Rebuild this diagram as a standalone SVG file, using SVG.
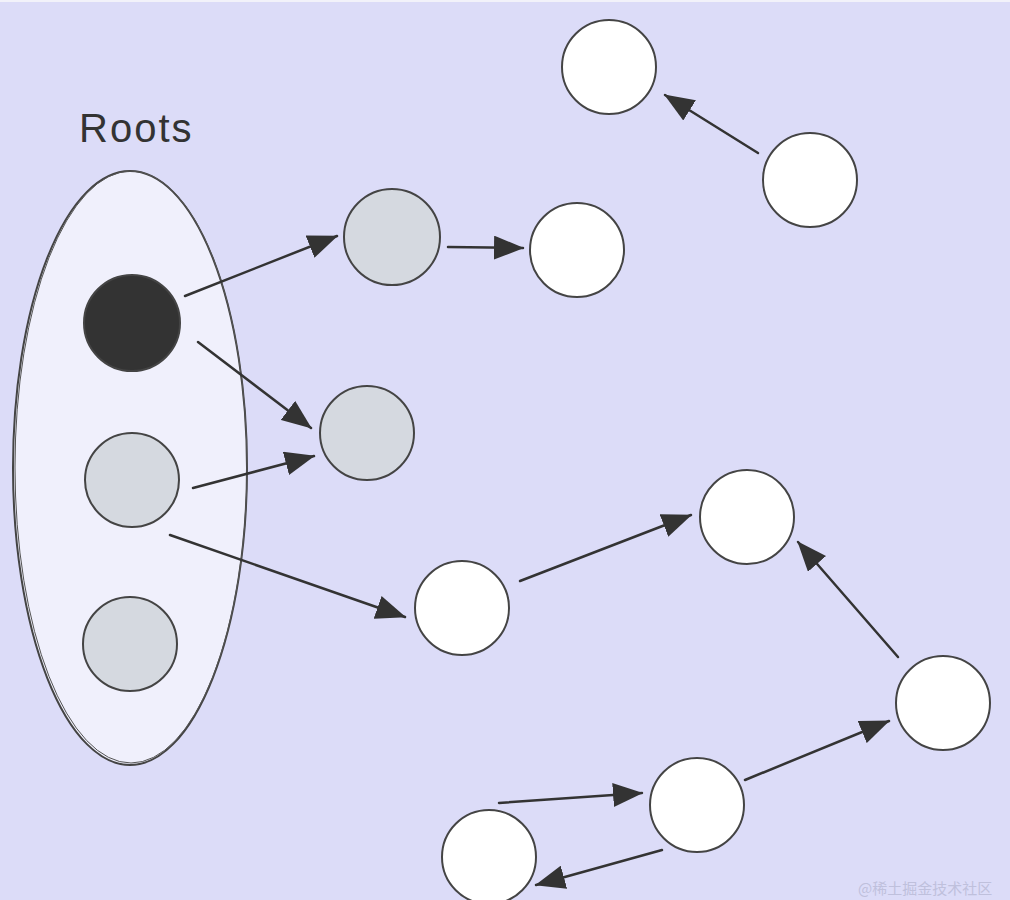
<svg xmlns="http://www.w3.org/2000/svg" width="1010" height="900" viewBox="0 0 1010 900">
  <style>
    .bg { fill: #dcdcf8; }
    .node { stroke: #444; stroke-width: 2; }
    .white { fill: #ffffff; }
    .gray { fill: #d5d9e0; }
    .black { fill: #333333; }
    .edge { stroke: #333; stroke-width: 2.5; fill: none; stroke-linecap: round; marker-end: url(#arrow); }
    .label { font-family: "Liberation Sans", "DejaVu Sans", sans-serif; font-size: 40px; fill: #333; letter-spacing: 2px; }
    .wm { font-family: "Noto Sans CJK SC", "Liberation Sans", sans-serif; font-size: 15px; fill: #bfc0dc; }
  </style>
  <defs>
    <marker id="arrow" viewBox="0 0 30 24" refX="29" refY="12" markerWidth="30" markerHeight="24" markerUnits="userSpaceOnUse" orient="auto">
      <path d="M0,0 L30,12 L0,24 Z" fill="#333"/>
    </marker>
  </defs>
  <rect class="bg" x="0" y="0" width="1010" height="900"/>
  <rect x="0" y="0" width="1010" height="2" fill="#f2f2fa"/>

  <g id="roots-label">
    <text class="label" x="79" y="142">Roots</text>
  </g>

  <g id="roots">
    <ellipse cx="130" cy="468" rx="117" ry="297" fill="#f0f0fc" stroke="#444" stroke-width="2"/>
    <ellipse cx="131" cy="467" rx="116" ry="296" fill="none" stroke="#555" stroke-width="1"/>
  </g>

  <g id="root1"><circle class="node black" cx="132" cy="323" r="48"/></g>
  <g id="root2"><circle class="node gray" cx="132" cy="480" r="47"/></g>
  <g id="root3"><circle class="node gray" cx="130" cy="644" r="47"/></g>

  <g id="nodeA"><circle class="node white" cx="609" cy="67" r="47"/></g>
  <g id="nodeB"><circle class="node white" cx="810" cy="180" r="47"/></g>
  <g id="nodeC"><circle class="node gray" cx="392" cy="237" r="48"/></g>
  <g id="nodeD"><circle class="node white" cx="577" cy="250" r="47"/></g>
  <g id="nodeE"><circle class="node gray" cx="367" cy="433" r="47"/></g>
  <g id="nodeF"><circle class="node white" cx="462" cy="608" r="47"/></g>
  <g id="nodeG"><circle class="node white" cx="747" cy="517" r="47"/></g>
  <g id="nodeH"><circle class="node white" cx="943" cy="703" r="47"/></g>
  <g id="nodeI"><circle class="node white" cx="697" cy="805" r="47"/></g>
  <g id="nodeJ"><circle class="node white" cx="489" cy="857" r="47"/></g>

  <g id="connectors">
    <line class="edge" x1="185" y1="296" x2="337" y2="236"/>
    <line class="edge" x1="198" y1="342" x2="311" y2="428"/>
    <line class="edge" x1="193" y1="488" x2="314" y2="456"/>
    <line class="edge" x1="170" y1="535" x2="405" y2="617"/>
    <line class="edge" x1="448" y1="247" x2="523" y2="248"/>
    <line class="edge" x1="758" y1="153" x2="665" y2="95"/>
    <line class="edge" x1="520" y1="581" x2="691" y2="515"/>
    <line class="edge" x1="898" y1="657" x2="798" y2="542"/>
    <line class="edge" x1="745" y1="780" x2="889" y2="721"/>
    <line class="edge" x1="499" y1="803" x2="642" y2="793"/>
    <line class="edge" x1="662" y1="850" x2="536" y2="885"/>
  </g>

  <text class="wm" x="858" y="894">@稀土掘金技术社区</text>
</svg>
